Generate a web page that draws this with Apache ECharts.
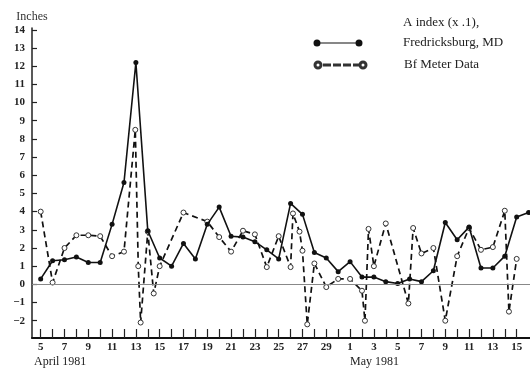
<!DOCTYPE html>
<html>
<head>
<meta charset="utf-8">
<script src="https://cdn.jsdelivr.net/npm/echarts@6/dist/echarts.min.js"></script>
<style>
  html, body { margin: 0; padding: 0; background: #fff; }
  #chart { width: 530px; height: 373px; }
</style>
</head>
<body>
<div id="chart"></div>
<script>
// day labels, index 0 = April 5 ... index 40 = May 15
const dayLabels = ['5', '6', '7', '8', '9', '10', '11', '12', '13', '14', '15', '16', '17', '18', '19', '20',
  '21', '22', '23', '24', '25', '26', '27', '28', '29', '30',
  '1', '2', '3', '4', '5', '6', '7', '8', '9', '10', '11', '12', '13', '14', '15', '16']
const labelDays = [0, 2, 4, 6, 8, 10, 12, 14, 16, 18, 20, 22, 24, 26, 28, 30, 32, 34, 36, 38, 40]
const tickDays = [0, 1, 2, 3, 4, 5, 6, 7, 8, 9, 10, 11, 12, 13, 14, 15, 16, 17, 18, 19, 20,
  21, 22, 23, 24, 25, 26, 27, 28, 29, 30, 31, 32, 33, 34, 35, 36, 37, 38, 39, 40]
const yTicks = [-2, -1, 0, 1, 2, 3, 4, 5, 6, 7, 8, 9, 10, 11, 12, 13, 14]

// A index (x .1), Fredricksburg, MD - one value per day
const aIndexDay = [0, 1, 2, 3, 4, 5, 6, 7, 8, 9, 10, 11, 12, 13, 14, 15, 16, 17, 18, 19, 20,
  21, 22, 23, 24, 25, 26, 27, 28, 29, 30, 31, 32, 33, 34, 35, 36, 37, 38, 39, 40, 41]
const aIndexVal = [0.3, 1.3, 1.35, 1.5, 1.2, 1.2, 3.3, 5.6, 12.2, 2.95, 1.45, 1.0, 2.25, 1.4, 3.3, 4.25,
  2.65, 2.6, 2.35, 1.9, 1.4, 4.45, 3.85, 1.75, 1.45, 0.7,
  1.25, 0.4, 0.4, 0.15, 0.05, 0.3, 0.15, 0.75, 3.4, 2.45, 3.15, 0.9, 0.9, 1.55, 3.7, 3.95]

// Bf Meter Data - some days have several readings
const bfDay = [0, 1, 2, 3, 4, 5, 6, 7, 7.95, 8.2, 8.4, 9, 9.5, 10, 12, 14, 15, 16, 17, 18, 19, 20, 21,
  21.2, 21.75, 22, 22.4, 23, 24, 25, 26, 27, 27.25, 27.55, 28, 29, 30.9, 31.3, 32, 33, 34, 35, 36,
  37, 38, 39, 39.35, 40]
const bfVal = [4.0, 0.1, 2.0, 2.7, 2.7, 2.65, 1.55, 1.8, 8.5, 1.0, -2.1, 2.9, -0.5, 1.0, 3.95, 3.45, 2.6, 1.8, 2.95, 2.75, 0.95, 2.65, 0.95,
  3.9, 2.9, 1.85, -2.2, 1.15, -0.15, 0.3, 0.3, -0.35, -2.0, 3.05, 1.0, 3.35, -1.05, 3.1, 1.7, 2.0, -2.0, 1.55, 3.1,
  1.9, 2.05, 4.05, -1.5, 1.4]

const serif = 'Liberation Serif'

// legend icons: marker - line - marker
const iconSolid = 'path://M0 0M85 8' +
  'M0.5 4A3.5 3.5 0 1 1 7.5 4A3.5 3.5 0 1 1 0.5 4Z' +
  'M4 3.4H46V4.6H4Z' +
  'M42.5 4A3.5 3.5 0 1 1 49.5 4A3.5 3.5 0 1 1 42.5 4Z'
const iconDashed = 'path://M0 0M85 8' +
  'M0.5 4A3.5 3.5 0 1 1 7.5 4A3.5 3.5 0 1 1 0.5 4Z' +
  'M1.5 4A2.5 2.5 0 1 0 6.5 4A2.5 2.5 0 1 0 1.5 4Z' +
  'M10 3.45H16V4.55H10Z' +
  'M20 3.45H26V4.55H20Z' +
  'M30 3.45H36V4.55H30Z' +
  'M40 3.45H45V4.55H40Z' +
  'M45.5 4A3.5 3.5 0 1 1 52.5 4A3.5 3.5 0 1 1 45.5 4Z' +
  'M46.5 4A2.5 2.5 0 1 0 51.5 4A2.5 2.5 0 1 0 46.5 4Z'

const chart = echarts.init(document.getElementById('chart'))
chart.setOption({
  animation: false,
  backgroundColor: '#fff',
  title: [
    {
      text: 'April 1981',
      left: 29,
      top: 351,
      textStyle: { fontFamily: serif, fontSize: 12, fontWeight: 'normal', color: '#222' }
    },
    {
      text: 'May 1981',
      left: 345,
      top: 351,
      textStyle: { fontFamily: serif, fontSize: 12, fontWeight: 'normal', color: '#222' }
    }
  ],
  legend: [
    {
      data: ['A index'],
      left: 308,
      top: 8,
      orient: 'vertical',
      selectedMode: false,
      itemWidth: 85,
      itemHeight: 8,
      icon: iconSolid,
      itemStyle: { color: '#111' },
      formatter: () => 'A index (x .1),\nFredricksburg, MD\n ',
      textStyle: { fontFamily: serif, fontSize: 13, lineHeight: 20, color: '#222' }
    },
    {
      data: ['Bf Meter Data'],
      left: 308,
      top: 50,
      orient: 'vertical',
      selectedMode: false,
      itemWidth: 85,
      itemHeight: 8,
      icon: iconDashed,
      itemStyle: { color: '#444' },
      textStyle: { fontFamily: serif, fontSize: 13, lineHeight: 20, color: '#222' }
    }
  ],
  grid: { left: 32, right: 0, top: 28, bottom: 35 },
  xAxis: {
    type: 'value',
    min: -0.73,
    max: 41.12,
    splitLine: { show: false },
    axisLine: { show: true, onZero: false, lineStyle: { color: '#111', width: 2 } },
    axisTick: {
      show: true,
      inside: true,
      length: 9,
      customValues: tickDays,
      lineStyle: { color: '#222', width: 1.2 }
    },
    axisLabel: {
      customValues: labelDays,
      formatter: v => dayLabels[v],
      margin: 4,
      fontFamily: serif,
      fontWeight: 'bold',
      fontSize: 11,
      color: '#222'
    }
  },
  yAxis: {
    type: 'value',
    min: -2.95,
    max: 14.1,
    name: 'Inches',
    nameLocation: 'end',
    nameGap: 5,
    nameTextStyle: { fontFamily: serif, fontSize: 12, color: '#333' },
    splitLine: { show: false },
    axisLine: { show: true, onZero: false, lineStyle: { color: '#222', width: 1.5 } },
    axisTick: {
      show: true,
      inside: true,
      length: 5,
      customValues: yTicks,
      lineStyle: { color: '#222', width: 1.2 }
    },
    axisLabel: {
      customValues: yTicks,
      formatter: v => (v < 0 ? '\u2212' + (-v) : String(v)),
      margin: 7,
      fontFamily: serif,
      fontWeight: 'bold',
      fontSize: 11,
      color: '#222'
    }
  },
  series: [
    {
      name: 'A index',
      type: 'line',
      data: aIndexDay.map((d, i) => [d, aIndexVal[i]]),
      symbol: 'circle',
      symbolSize: 5,
      itemStyle: { color: '#111' },
      lineStyle: { color: '#111', width: 1.6 },
      emphasis: { disabled: true },
      z: 3,
      markLine: {
        silent: true,
        symbol: 'none',
        label: { show: false },
        lineStyle: { color: '#888', width: 1, type: 'solid' },
        data: [{ yAxis: 0 }]
      }
    },
    {
      name: 'Bf Meter Data',
      type: 'line',
      data: bfDay.map((d, i) => [d, bfVal[i]]),
      symbol: 'circle',
      symbolSize: 5,
      itemStyle: { color: '#fff', borderColor: '#333', borderWidth: 1 },
      lineStyle: { color: '#111', width: 1.7, type: [6, 4] },
      emphasis: { disabled: true },
      z: 2
    }
  ]
})
</script>
</body>
</html>
